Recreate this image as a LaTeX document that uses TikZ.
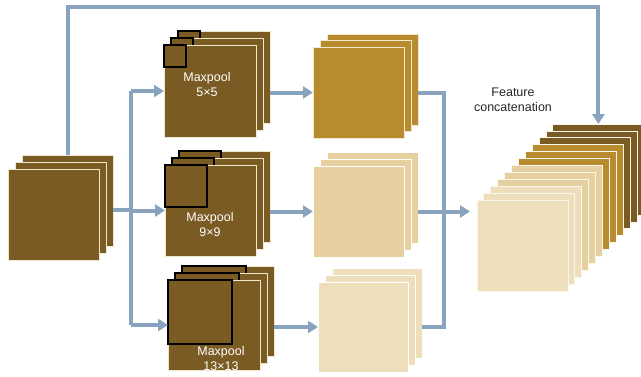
\documentclass[tikz,border=0pt]{standalone}
\usepackage{fontspec}
\setmainfont{Liberation Sans}
\usetikzlibrary{arrows.meta}

\definecolor{fmapdark}{RGB}{122,91,35}
\definecolor{fmapgold}{RGB}{185,139,47}
\definecolor{fmaplight}{RGB}{230,208,159}
\definecolor{fmappale}{RGB}{238,222,188}
\definecolor{linkblue}{RGB}{135,163,190}
\definecolor{edgecream}{RGB}{240,232,205}

\tikzset{
  fmap/.style={draw=edgecream, line width=0.9pt, inner sep=0pt, outer sep=0pt,
               anchor=north west, minimum width=#1, minimum height=#1},
  fmap/.default=91pt,
  kern/.style={draw=black, line width=1.9pt, inner sep=0pt, outer sep=0pt,
               anchor=north west, minimum size=#1},
  conn/.style={draw=linkblue, line width=4pt, line join=miter},
  arr/.style={conn, -{Triangle[length=10pt,width=12pt]}},
  poolText/.style={text=white, align=center, font=\fontsize{12.5}{15}\selectfont},
  capText/.style={text=black!85, align=center, font=\fontsize{12.5}{15}\selectfont},
}

\begin{document}
\begin{tikzpicture}[x=1pt,y=-1pt]
\useasboundingbox (0,0) rectangle (641,376);

% input feature map
\node[fmap, fill=fmapdark] (in3) at (22,155) {};
\node[fmap, fill=fmapdark] (in2) at (15,162) {};
\node[fmap, fill=fmapdark] (in1) at (8,169) {};

% max-pooling branch 5x5
\node[fmap=92pt, fill=fmapdark] (p1b) at (178,31) {};
\node[kern=22pt] (k1b) at (p1b.north west) {};
\node[fmap=92pt, fill=fmapdark] (p1m) at (171,38) {};
\node[kern=22pt] (k1m) at (p1m.north west) {};
\node[fmap=92pt, fill=fmapdark] (p1f) at (164,45) {};
\node[kern=22pt] (k1f) at (p1f.north west) {};
\node[poolText] (t1) at (207,84.5) {Maxpool\\5×5};

% max-pooling branch 9x9
\node[fmap, fill=fmapdark] (p2b) at (179,151) {};
\node[kern=42pt] (k2b) at (p2b.north west) {};
\node[fmap, fill=fmapdark] (p2m) at (172,158) {};
\node[kern=42pt] (k2m) at (p2m.north west) {};
\node[fmap, fill=fmapdark] (p2f) at (165,165) {};
\node[kern=42pt] (k2f) at (p2f.north west) {};
\node[poolText] (t2) at (210,224.5) {Maxpool\\9×9};

% max-pooling branch 13x13
\node[fmap, fill=fmapdark, minimum width=92pt, minimum height=90pt] (p3b) at (182,266) {};
\node[kern=64pt] (k3b) at (p3b.north west) {};
\node[fmap, fill=fmapdark, minimum width=92pt, minimum height=90pt] (p3m) at (175,273) {};
\node[kern=64pt] (k3m) at (p3m.north west) {};
\node[fmap, fill=fmapdark, minimum width=92pt, minimum height=90pt] (p3f) at (168,280) {};
\node[kern=64pt] (k3f) at (p3f.north west) {};
\node[poolText] (t3) at (221,358.5) {Maxpool\\13×13};

% pooled outputs
\node[fmap, fill=fmapgold] (o1b) at (327,34) {};
\node[fmap, fill=fmapgold] (o1m) at (320,40.5) {};
\node[fmap, fill=fmapgold] (o1f) at (313,47) {};

\node[fmap, fill=fmaplight, draw=white] (o2b) at (327,152) {};
\node[fmap, fill=fmaplight, draw=white] (o2m) at (320,159) {};
\node[fmap, fill=fmaplight, draw=white] (o2f) at (313,166) {};

\node[fmap=90pt, fill=fmappale, draw=white] (o3b) at (332,268) {};
\node[fmap=90pt, fill=fmappale, draw=white] (o3m) at (325,275) {};
\node[fmap=90pt, fill=fmappale, draw=white] (o3f) at (318,282) {};

% concatenated feature maps, back to front
\foreach \k/\col in {12/fmapdark,11/fmapdark,10/fmapdark,
                     9/fmapgold,8/fmapgold,7/fmapgold,
                     6/fmaplight,5/fmaplight,4/fmaplight,
                     3/fmappale,2/fmappale,1/fmappale}{
  \node[fmap, fill=\col, draw=white!60!edgecream] (c\k) at ({477+6.9*(\k-1)},{200-6.9*(\k-1)}) {};
}
\node[capText] (ft) at (513,100) {Feature\\concatenation};

% connectors
\coordinate (topline) at (0,6.5);
\coordinate (split) at (131,210);
\coordinate (merge) at (444,211.5);
\coordinate (cin) at ([xshift=-7pt]c1.west);

\draw[arr] (in3.north) -- (in3.north |- topline) -- (c12.north |- topline) -- (c12.north);

\draw[conn] (in3.east |- split) -- (split);
\draw[conn] (split |- p1f.west) -- (split |- p3f.west);
\draw[arr] (split |- p1f.west) -- (p1f.west);
\draw[arr] (split |- p2f.west) -- (p2f.west);
\draw[arr] (split |- p3f.west) -- (p3f.west);

\draw[arr] (p1b.east |- o1f.west) -- (o1f.west);
\draw[arr] (p2b.east |- o2f.west) -- (o2f.west);
\draw[arr] (p3b.east |- o3f.west) -- (o3f.west);

\draw[conn] (o1b.east |- o1f.west) -- (merge |- o1f.west) -- (merge |- o3f.west) -- (o3b.east |- o3f.west);
\draw[arr] (o2b.east |- o2f.west) -- (cin |- o2f.west);
\end{tikzpicture}
\end{document}
